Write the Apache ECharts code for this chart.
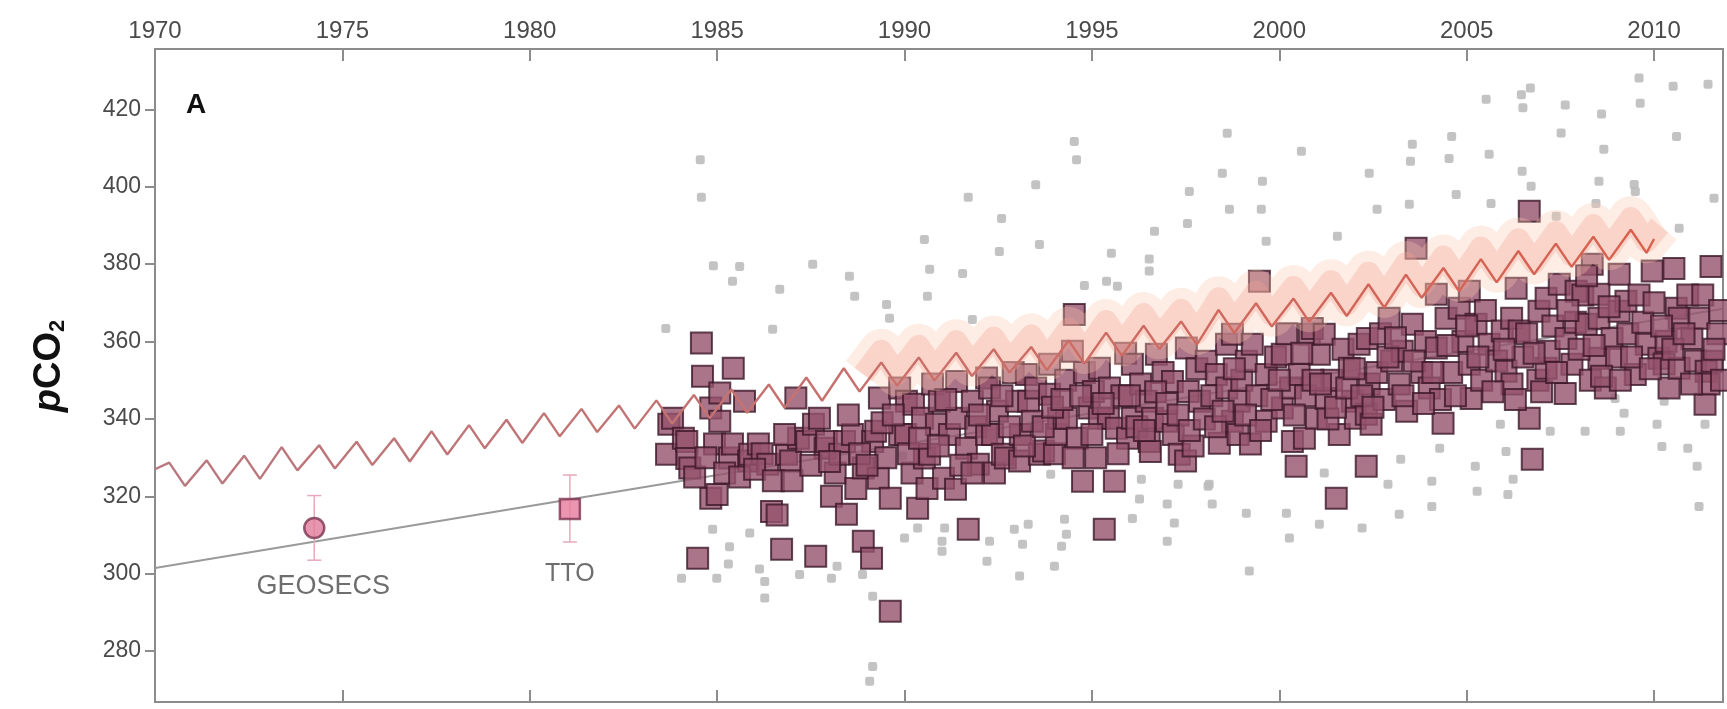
<!DOCTYPE html>
<html><head><meta charset="utf-8">
<script src="https://cdn.jsdelivr.net/npm/echarts@6/dist/echarts.min.js"></script>
<style>html,body{margin:0;padding:0;background:#fff}#c{width:1727px;height:709px}</style>
</head><body><div id="c"></div>
<script>
// ---- axis ticks ----
const xTicks = [1970, 1975, 1980, 1985, 1990, 1995, 2000, 2005, 2010];
const yTicks = [280, 300, 320, 340, 360, 380, 400, 420];

// ---- atmospheric pCO2 seasonal line (annual peak / trough) ----
const co2Years = [1970,1971,1972,1973,1974,1975,1976,1977,1978,1979,1980,1981,1982,1983,1984,1985,1986,1987,1988,1989,
                  1990,1991,1992,1993,1994,1995,1996,1997,1998,1999,2000,2001,2002,2003,2004,2005,2006,2007,2008,2009];
const co2Peak = [328.7,329.3,330.5,332.7,333.2,334.1,335.0,336.8,338.4,339.8,341.5,342.6,343.5,344.8,346.2,347.6,348.9,350.7,353.1,354.6,
                 355.9,357.1,358.0,358.6,360.3,362.3,364.1,365.2,368.2,369.9,371.1,372.6,374.8,377.3,379.0,381.3,383.4,385.3,387.1,388.9];
const co2Trough = [322.7,323.3,324.5,326.7,327.2,328.1,329.0,330.8,332.4,333.8,335.5,336.6,337.5,338.8,340.2,341.6,342.9,344.7,347.1,348.6,
                   349.9,351.1,352.0,352.6,354.3,356.3,358.1,359.2,362.2,363.9,365.1,366.6,368.8,371.3,373.0,375.3,377.4,379.3,381.1,382.9];
const co2Start = 327.0;
const co2End = 386.5;

// ---- pale band around the line (1989-2009) ----
const bandYears = [1989,1990,1991,1992,1993,1994,1995,1996,1997,1998,1999,2000,2001,2002,2003,2004,2005,2006,2007,2008,2009];
const bandPeak = [357.6,358.9,360.1,361.0,361.6,363.3,365.3,367.1,368.2,371.2,372.9,374.1,375.6,377.8,380.3,382.0,384.3,386.4,388.3,390.1,391.9];
const bandTrough = [351.6,352.9,354.1,355.0,355.6,357.3,359.3,361.1,362.2,365.2,366.9,368.1,369.6,371.8,374.3,376.0,378.3,380.4,382.3,384.1,385.9];
const bandStart = [1988.9, 351.5];
const bandEnd = [2010.15, 390.0];

// ---- ship pCO2 (dark squares) [year, pCO2] ----
const squares = [
[1983.65,330.9],[1983.71,338.6],[1983.81,340.2],[1984.1,335],[1984.19,334.2],[1984.19,329.8],[1984.27,327.3],[1984.48,304],[1984.58,359.6],[1984.61,351],
[1984.83,342.8],[1984.83,319.5],[1984.93,333.5],[1985.0,320.5],[1985.07,346.7],[1985.07,339.4],[1985.33,329.9],[1985.41,333.5],[1985.43,353.1],[1985.73,344.6],
[1985.84,329.1],[1985.87,330.9],[1986.1,333.5],[1986.2,331],[1986.35,328.3],[1986.45,316.1],[1986.6,315.2],[1986.72,306.3],[1986.85,330.9],[1986.96,329.1],
[1987.1,345.4],[1987.17,335],[1987.39,334.2],[1987.57,338.6],[1987.63,304.5],[1987.73,340.2],[1987.88,332.4],[1987.92,334.2],
[1988.05,320],[1988.15,326],[1988.27,330.9],[1988.4,334.2],[1988.45,315.4],[1988.61,336],[1988.7,322],[1988.9,308.4],[1988.9,327.3],[1989.12,304],
[1989.15,334.2],[1989.23,336.8],[1989.3,324.7],[1989.33,345.4],[1989.5,330],[1989.62,290.3],[1989.62,319.5],[1989.87,336],[1989.87,348],
[1990.03,336],[1990.05,344.6],[1990.2,326],[1990.24,343.8],[1990.35,316.9],[1990.48,340.2],[1990.53,329.9],[1990.6,322],[1990.67,330.9],[1990.75,349],
[1990.85,338.6],[1990.93,344.6],[1991.04,324.7],[1991.2,336],[1991.36,321.8],[1991.39,340.2],[1991.39,349.7],[1991.65,332.4],[1991.7,311.5],[1991.81,344.6],
[1991.9,338],[1991.97,328.3],
[1992.19,336],[1992.19,350.6],[1992.27,348],[1992.35,336],[1992.4,326],[1992.48,342],[1992.61,330.9],[1992.69,329.9],[1992.9,352],[1992.99,344.6],
[1993.07,329.1],[1993.09,336],[1993.25,351.5],[1993.31,344.6],[1993.41,339.4],[1993.5,348],[1993.6,330.9],[1993.71,331.7],[1993.87,346.4],[1993.87,354.1],
[1994.0,331],[1994.05,336],[1994.11,340.2],[1994.3,350],[1994.32,340.2],[1994.48,357.5],[1994.53,367],[1994.61,335],[1994.75,323.9],[1994.8,352],
[1994.93,342.8],[1995.04,347.1],[1995.1,330],[1995.2,353.1],[1995.2,340.2],[1995.33,311.5],[1995.44,340.2],[1995.47,348],[1995.6,323.9],[1995.65,337.6],
[1995.8,346],[1995.9,357],[1995.95,335],
[1996.08,354.1],[1996.08,340.2],[1996.2,338],[1996.3,349],[1996.45,344.6],[1996.53,334.2],[1996.56,331.6],[1996.62,340.2],[1996.72,356.7],[1996.9,352],
[1996.99,339.4],[1997.15,349.7],[1997.17,336],[1997.33,330.9],[1997.5,329.1],[1997.52,358.3],[1997.57,347.1],[1997.7,333],[1997.8,353],[1997.87,344.6],
[1998.05,354.9],[1998.2,346],[1998.32,351.5],[1998.4,333.7],[1998.59,359.3],[1998.6,348],[1998.75,361.9],[1998.75,339.4],[1998.9,336],[1998.93,344.6],
[1999.0,350],[1999.12,354.9],[1999.23,333.5],[1999.28,359.3],[1999.4,346],[1999.47,375.6],[1999.65,351.5],[1999.65,339.4],[1999.9,356],
[2000.08,342.8],[2000.08,356.7],[2000.2,362],[2000.3,348],[2000.35,334.2],[2000.45,327.8],[2000.53,351.5],[2000.67,335],[2000.7,346],[2000.8,361.9],
[2000.88,363.4],[2000.99,340.2],[2001.07,356.7],[2001.2,361.9],[2001.25,345.3],[2001.4,350],[2001.52,319.5],[2001.6,336],[2001.7,358],[2001.87,353.1],
[2001.95,344.6],
[2002.03,340.2],[2002.13,359.3],[2002.32,341.2],[2002.32,327.8],[2002.35,360.8],[2002.4,349],[2002.45,338.6],[2002.6,352],[2002.7,362],[2002.8,345],
[2002.93,366],[2003.0,355],[2003.2,349],[2003.28,357.5],[2003.4,342],[2003.55,364.5],[2003.65,384.1],[2003.8,352],[2003.9,360],
[2004.0,348],[2004.19,372.2],[2004.19,358.3],[2004.3,345],[2004.37,338.9],[2004.45,366],[2004.6,352],[2004.8,368.6],[2004.9,360],[2005.07,373],
[2005.07,354.1],[2005.12,345.3],[2005.25,364.5],[2005.4,350],[2005.5,368],[2005.6,359.3],[2005.8,355],[2005.95,362.7],
[2006.05,352.3],[2006.2,366],[2006.21,349],[2006.32,373.8],[2006.4,362.7],[2006.5,356],[2006.67,393.7],[2006.67,340.2],[2006.75,329.6],[2006.9,350],
[2006.93,367.8],[2007.12,371.2],[2007.12,353.1],[2007.2,357.5],[2007.3,364],[2007.47,374.8],[2007.63,346.6],[2007.65,360.8],[2007.81,354.1],[2007.9,365],
[2007.92,373],
[2008.1,372],[2008.19,364.5],[2008.3,350],[2008.35,380],[2008.53,372.2],[2008.53,366],[2008.53,355.7],[2008.7,348],[2008.88,360.8],[2009.0,356],
[2009.07,377.4],[2009.07,367.8],[2009.25,370.4],[2009.3,362],[2009.5,351.5],[2009.6,372],[2009.79,359.3],[2009.95,378.2],
[2010.13,355.7],[2010.27,354.2],[2010.32,360.1],[2010.4,348],[2010.53,378.9],[2010.59,368.6],[2010.67,366],[2010.67,353.1],[2010.9,372],[2011.01,360.8],
[2011.1,355],[2011.2,366],[2011.36,343.8],[2011.39,352.3],[2011.47,349],[2011.52,379.4],[2011.55,354.9],[2011.7,362],[2011.8,350],
[1984.4,325],[1984.7,330],[1985.2,326],[1985.6,325],[1986.0,327],[1986.5,324],[1986.8,336],[1987.0,324],[1987.5,328],[1988.0,329],
[1988.5,341],[1988.8,331],[1989.4,339],[1989.0,328],[1989.7,341],[1990.1,331],[1990.4,335],[1990.9,333],[1991.1,345],[1991.5,328],
[1991.8,326],[1992.0,341],[1992.6,346],[1992.8,338],[1993.2,333],[1993.7,338],[1993.95,343],[1994.2,345],[1994.5,330],[1994.7,346],
[1995.0,336],[1995.3,344],[1995.7,331],[1996.0,346],[1996.4,337],[1996.7,347],[1997.0,344],[1997.3,341],[1997.6,337],[1998.0,340],
[1998.3,338],[1998.5,342],[1998.8,353],[1999.1,341],[1999.5,337],[1999.8,345],[2000.0,350],[2000.4,341],[2000.6,357],[2000.9,350],
[2001.1,349],[2001.3,340],[2001.5,343],[2001.8,348],[2002.0,353],[2002.2,346],[2002.5,343],[2002.9,356],[2003.1,361],[2003.3,346],
[2003.6,355],[2003.85,344],[2004.1,352],[2004.5,359],[2004.7,346],[2005.0,364],[2005.3,356],[2005.7,347],[2006.0,358],[2006.3,345],
[2006.6,362],[2006.8,357],[2007.0,347],[2007.4,352],[2007.7,368],[2008.0,358],[2008.2,377],[2008.4,359],[2008.6,351],[2008.8,369],
[2009.1,350],[2009.4,356],[2009.7,365],[2009.9,353],[2010.0,370],[2010.2,364],[2010.5,358],[2010.8,362],[2011.0,349],[2011.3,372],
[2011.6,358],[2011.75,368]
];

// ---- individual measurements (light grey dots) [year, pCO2] ----
const dots = [
[1983.63,363.4],[1984.55,407],[1984.58,397.3],[1984.9,379.6],[1985.41,375.6],[1985.6,379.4],[1986.48,363.2],[1986.67,373.5],[1987.55,380],[1988.53,376.9],
[1988.67,371.7],[1989.52,369.6],[1989.6,366],[1990.53,386.4],[1990.67,378.7],[1990.61,371.7],[1991.55,377.6],[1991.81,365.7],[1991.7,397.3],[1992.53,383.3],
[1992.59,391.8],[1993.5,400.5],[1993.6,385.1],[1994.53,411.7],[1994.59,407],[1994.8,374.5],[1995.39,375.6],[1995.52,382.8],[1995.68,374.3],[1996.53,381.3],
[1996.53,378.2],[1996.67,388.5],[1997.55,390.5],[1997.6,398.8],[1998.48,403.5],[1998.61,413.8],[1998.67,394.2],[1999.52,394.2],[1999.55,401.4],[1999.65,385.9],
[2000.59,409.2],[2001.55,387.2],[2002.4,403.5],[2002.61,394.2],[2003.47,395.5],[2003.55,411],[2003.5,406.6],[2004.6,413],[2004.53,407.3],[2004.72,398],
[2005.52,422.6],[2005.6,408.4],[2005.65,395.7],[2006.46,423.8],[2006.7,425.5],[2006.5,420.4],[2006.48,404],[2006.72,400.1],[2007.39,392.4],[2007.63,421.1],
[2007.52,413.9],[2008.6,418.8],[2008.66,409.7],[2008.45,395.7],[2008.53,401.4],[2009.6,428.1],[2009.63,421.6],[2009.47,400.6],[2009.5,398.8],[2010.51,426],
[2010.6,413],[2010.67,389.3],[2011.44,426.5],[2011.6,397],
[1984.05,298.8],[1984.88,311.5],[1984.99,298.8],[1985.3,302.5],[1985.33,307],[1985.87,310.5],[1986.13,301.2],[1986.27,298],[1986.27,293.7],[1987.2,299.8],
[1988.05,298.8],[1988.2,301.9],[1988.88,299.8],[1989.15,294.2],[1989.15,276],[1989.07,272.2],[1989.95,330.4],[1990,309.2],[1990.35,311.8],[1991,308.4],
[1991.07,311.8],[1991,305.8],[1992.27,308.4],[1992.2,303.2],[1993.9,325.7],[1993.3,312.8],[1992.93,311.5],[1993.15,307.6],[1994,301.9],[1993.07,299.4],
[1994.27,314.1],[1994.32,310.2],[1994.19,307.1],[1996.08,314.3],[1996.32,324.4],[1996.27,319.3],[1997.01,318],[1997.2,313.1],[1997.01,308.4],[1998.13,323.1],
[1998.21,318],[1999.12,315.6],[1999.2,300.7],[2000.19,315.6],[2000.27,309.2],[2001.07,312.8],[2002.21,311.8],[2001.2,326],[1997.3,323.1],[1998.1,322.6],
[2002.9,323.1],[2003.2,315.4],[2003.24,329.6],[2004.07,323.9],[2004.07,317.4],[2004.28,332.4],[2005.23,327.8],[2005.28,321.3],[2005.9,338.6],[2006.05,331.6],
[2006.1,320.5],[2006.24,324.4],[2007.23,336.8],[2008.16,336.8],[2008.96,345.3],[2009.2,341.5],[2009.1,336.8],[2010.08,338.6],[2010.27,344.6],[2010.21,332.9],
[2010.9,332.4],[2011.15,327.8],[2011.2,317.4],[2011.36,338.6]
];

// ---- historical cruises ----
const geosecs = {name: 'GEOSECS', year: 1974.25, value: 311.8, low: 303.5, high: 320.2};
const tto = {name: 'TTO', year: 1981.07, value: 316.7, low: 308.2, high: 325.5};

// ---- grey trend line ----
const trendLine = [[1970, 301.5], [2011.84, 368.5]];

// build line data
const co2Data = [[1970, co2Start]];
co2Years.forEach((y, i) => { co2Data.push([y + 0.38, co2Peak[i]]); co2Data.push([y + 0.8, co2Trough[i]]); });
co2Data.push([2010.0, co2End]);
const bandData = [bandStart];
bandYears.forEach((y, i) => { bandData.push([y + 0.38, bandPeak[i]]); bandData.push([y + 0.8, bandTrough[i]]); });
bandData.push(bandEnd);

const FONT = 'Liberation Sans, Arial, sans-serif';
const axisGrey = '#8c8c8c';
const chart = echarts.init(document.getElementById('c'), null, {renderer: 'canvas'});

function errBar(params, api) {
  const a = api.coord([api.value(0), api.value(1)]);
  const b = api.coord([api.value(0), api.value(2)]);
  const cw = 7;
  const st = {stroke: '#e6a9b9', lineWidth: 1.5};
  return {type: 'group', children: [
    {type: 'line', shape: {x1: a[0], y1: a[1], x2: b[0], y2: b[1]}, style: st},
    {type: 'line', shape: {x1: a[0] - cw, y1: a[1], x2: a[0] + cw, y2: a[1]}, style: st},
    {type: 'line', shape: {x1: b[0] - cw, y1: b[1], x2: b[0] + cw, y2: b[1]}, style: st}
  ]};
}

const lineGrad = new echarts.graphic.LinearGradient(0, 0, 1, 0, [
  {offset: 0, color: '#b9787f'}, {offset: 0.45, color: '#c7716e'}, {offset: 1, color: '#d8604e'}
]);

const option = {
  backgroundColor: '#ffffff',
  animation: false,
  grid: {left: 155, right: 4, top: 49, bottom: 7, show: true, borderColor: axisGrey, borderWidth: 2, backgroundColor: 'transparent'},
  xAxis: [
    {type: 'value', position: 'top', min: 1970, max: 2011.84,
     axisLine: {show: false}, splitLine: {show: false},
     axisTick: {show: true, inside: true, length: 12, customValues: xTicks, lineStyle: {color: axisGrey, width: 2}},
     axisLabel: {show: true, customValues: xTicks, margin: 6, color: '#4a4a4a', fontSize: 24, fontFamily: FONT,
                 formatter: v => String(v)}},
    {type: 'value', position: 'bottom', min: 1970, max: 2011.84,
     axisLine: {show: false}, splitLine: {show: false},
     axisTick: {show: true, inside: true, length: 12, customValues: xTicks, lineStyle: {color: axisGrey, width: 2}},
     axisLabel: {show: false}}
  ],
  yAxis: {type: 'value', min: 266.85, max: 435.6,
    axisLine: {show: false}, splitLine: {show: false},
    axisTick: {show: true, inside: false, length: 10, customValues: yTicks, lineStyle: {color: axisGrey, width: 2}},
    axisLabel: {show: true, customValues: yTicks, margin: 14, color: '#4a4a4a', fontSize: 23, fontFamily: FONT,
                formatter: v => String(v)}},
  series: [
    {name: 'trend', type: 'line', data: trendLine, symbol: 'none', z: 1,
     lineStyle: {color: '#9a9a9a', width: 2}},
    {name: 'dots', type: 'scatter', data: dots, symbol: 'roundRect', symbolSize: 9, z: 2,
     itemStyle: {color: '#bcbcbc', opacity: 0.9}},
    {name: 'squares', type: 'scatter', data: squares, symbol: 'rect', symbolSize: 21, z: 3,
     itemStyle: {color: '#95536b', borderColor: '#3c1828', borderWidth: 2}},
    {name: 'bandWide', type: 'line', data: bandData, symbol: 'none', z: 4,
     lineStyle: {color: '#fbc6ad', width: 44, opacity: 0.32, join: 'round', cap: 'butt'}},
    {name: 'bandCore', type: 'line', data: bandData, symbol: 'none', z: 4,
     lineStyle: {color: '#f4a294', width: 22, opacity: 0.35, join: 'round', cap: 'butt'}},
    {name: 'co2', type: 'line', data: co2Data, symbol: 'none', z: 5,
     lineStyle: {color: lineGrad, width: 2.4}},
    {name: 'errors', type: 'custom', z: 6, renderItem: errBar,
     data: [[geosecs.year, geosecs.low, geosecs.high], [tto.year, tto.low, tto.high]]},
    {name: 'geosecs', type: 'scatter', z: 7, data: [[geosecs.year, geosecs.value]], symbol: 'circle', symbolSize: 20,
     itemStyle: {color: '#e27a9c', borderColor: '#7a3450', borderWidth: 2.5},
     label: {show: true, position: 'bottom', distance: 34, offset: [9, 0], formatter: geosecs.name, color: '#4a4a4a', fontSize: 27, fontFamily: FONT}},
    {name: 'tto', type: 'scatter', z: 7, data: [[tto.year, tto.value]], symbol: 'rect', symbolSize: 20,
     itemStyle: {color: '#e77b9d', borderColor: '#7a3450', borderWidth: 2.5},
     label: {show: true, position: 'bottom', distance: 41, formatter: tto.name, color: '#4a4a4a', fontSize: 25, fontFamily: FONT}}
  ],
  graphic: [
    {type: 'text', left: 186, top: 91, z: 10,
     style: {text: 'A', font: '600 28px ' + FONT, fill: '#111'}},
    {type: 'text', x: 50, y: 366, rotation: Math.PI / 2, z: 10,
     style: {text: '{i|p}{n|CO}{s|2}', align: 'center', verticalAlign: 'middle',
       rich: {
         i: {font: 'italic 600 38px ' + FONT, fill: '#111'},
         n: {font: '600 38px ' + FONT, fill: '#111'},
         s: {font: '600 22px ' + FONT, fill: '#111', verticalAlign: 'bottom', padding: [16, 0, 0, 0]}
       }}}
  ]
};
chart.setOption(option);
</script>
</body></html>
